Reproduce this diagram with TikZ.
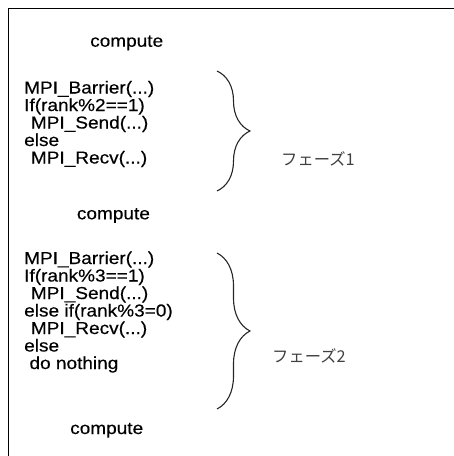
\documentclass[tikz,border=0pt]{standalone}
\usepackage{fontspec}
\setmainfont{Liberation Sans}[FakeStretch=1.1, FakeBold=0.35]
\newfontfamily\jpfont{Noto Sans CJK JP}
\usetikzlibrary{decorations.pathreplacing}

\tikzset{
  code/.style={anchor=base west, inner sep=0pt, font=\fontsize{17.3}{17.5}\selectfont},
  phase/.style={anchor=base west, inner sep=0pt, text=black!75, font=\jpfont\fontsize{16.3}{17}\selectfont},
  phasebrace/.style={decorate, decoration={brace, amplitude=33pt}, line width=1.1pt, black!85}
}

\begin{document}
\begin{tikzpicture}[x=1pt, y=-1pt]
\useasboundingbox (0,0) rectangle (454,456);
\draw[line width=1.4pt] (8.5,456) -- (8.5,8.5) -- (454,8.5);

\node[code] (c1) at (90,46.7) {compute};

% phase 1
\node[code] (b1) at (24,93.5) {MPI\_Barrier(...)};
\node[code] (if1) at (24,111) {If(rank\%2==1)};
\node[code] (s1) at (30.7,128.5) {MPI\_Send(...)};
\node[code] (e1) at (24,146) {else};
\node[code] (r1) at (30.7,163.5) {MPI\_Recv(...)};
\draw[phasebrace] (217,71) -- (217,191);
\node[phase] (p1) at (281,165.5) {フェーズ1};

\node[code] (c2) at (76.7,219.3) {compute};

% phase 2
\node[code] (b2) at (24,264) {MPI\_Barrier(...)};
\node[code] (if2) at (24,281.5) {If(rank\%3==1)};
\node[code] (s2) at (30.7,299) {MPI\_Send(...)};
\node[code] (ei2) at (24,316.5) {else if(rank\%3=0)};
\node[code] (r2) at (30.7,334) {MPI\_Recv(...)};
\node[code] (e2) at (24,351.5) {else};
\node[code] (n2) at (29.3,369) {do nothing};
\draw[phasebrace] (217,253) -- (217,409);
\node[phase] (p2) at (272,362.5) {フェーズ2};

\node[code] (c3) at (70,434) {compute};
\end{tikzpicture}
\end{document}
